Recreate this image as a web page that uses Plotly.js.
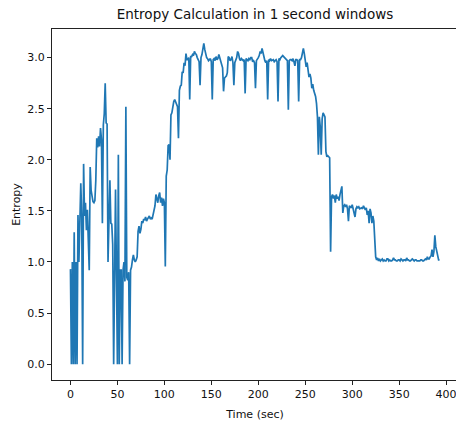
<!DOCTYPE html>
<html><head><meta charset="utf-8">
<script src="https://cdn.plot.ly/plotly-3.0.1.min.js"></script>
<style>html,body{margin:0;padding:0;overflow:hidden;background:#fff}</style>
</head><body><div id="chart" style="width:460px;height:428px"></div>
<script>
const timeSec = [
0,1,2,3,4,5,6,7,8,9,
11,12,13,14,15,16,17,18,20,21,
22,23,24,25,26,27,28,29,30,31,
32,33,34,35,36,37,38,39,40,42,
43,44,45,46,48,50,51,52,53,54,
55,56,57,58,59,60,61,62,63,64,
65,66,67,68,69,70,71,72,73,74,
75,76,77,78,79,80,81,82,83,84,
85,86,87,88,89,90,91,92,93,94,
95,96,97,98,99,100,101,102,103,104,
105,106,107,108,109,110,111,112,113,114,
115,116,117,118,119,120,121,122,123,124,
125,126,127,128,129,130,131,132,133,134,
135,136,137,138,139,140,141,142,143,144,
145,146,147,148,149,150,151,152,153,154,
155,156,157,158,159,160,161,162,163,164,
165,166,167,168,169,170,171,172,173,174,
175,176,177,178,179,180,181,182,183,184,
185,186,187,188,189,190,191,192,193,194,
195,196,197,198,199,200,201,202,203,204,
205,206,207,208,209,210,211,212,213,214,
215,216,217,218,219,220,221,222,223,224,
225,226,227,228,229,230,231,232,233,234,
235,236,237,238,239,240,241,242,243,244,
245,246,247,248,249,250,251,252,253,254,
255,256,257,258,259,260,261,262,263,264,
265,266,267,268,269,270,271,272,273,274,
275,276,277,278,279,280,281,282,283,284,
285,286,287,288,289,290,291,292,293,294,
295,296,297,298,299,300,301,302,303,304,
305,306,307,308,309,310,311,312,313,314,
315,316,317,318,319,320,321,322,323,324,
325,326,327,328,329,330,331,332,333,334,
335,336,337,338,339,340,341,342,343,344,
345,346,347,348,349,350,351,352,353,354,
355,356,357,358,359,360,361,362,363,364,
365,366,367,368,369,370,371,372,373,374,
375,376,377,378,379,380,381,382,383,384,
385,386,387,388,389,390,391,392,393
];
const entropy = [
0.93,0,1.0,0,1.29,0,1.0,0,1.46,1.0,
1.77,1.45,0,1.96,1.45,1.58,1.31,1.51,0.92,1.93,
1.70,1.62,1.59,1.58,1.60,1.80,2.21,2.12,2.23,2.13,
2.31,2.20,1.38,2.34,2.45,2.75,2.36,2.35,1.0,1.80,
1.38,1.37,1.17,0,1.71,0,2.05,0,0.92,0.92,
0,0.92,1.0,0.81,2.52,0.85,0.82,0.9,0,0.92,
0.95,1.02,1.07,1.02,1.0,1.02,1.05,1.30,1.35,1.28,
1.32,1.40,1.38,1.42,1.41,1.44,1.40,1.42,1.44,1.45,
1.42,1.43,1.42,1.46,1.50,1.55,1.66,1.60,1.58,1.65,
1.68,1.58,1.63,1.55,1.62,1.58,0.955,1.84,1.90,2.14,
2.15,2.0,2.44,2.46,2.54,2.57,2.59,2.57,2.55,2.52,
2.21,2.68,2.72,2.73,2.86,2.85,2.95,2.92,3.04,2.98,
2.98,3.0,2.59,3.01,3.01,3.03,3.02,3.06,3.04,3.03,
3.0,2.98,2.96,2.73,3.0,3.03,3.12,3.14,3.08,3.03,
3.0,2.99,2.97,2.98,2.99,2.96,2.59,2.98,2.99,2.97,
3.01,2.98,2.99,3.03,3.0,2.97,2.95,2.90,2.67,2.80,
2.81,2.82,2.85,3.01,3.0,2.97,2.98,3.01,2.95,2.73,
2.95,2.97,3.0,3.06,3.04,2.99,2.97,2.99,2.98,2.97,
2.98,2.65,2.99,2.98,2.97,2.99,2.98,3.0,3.0,2.96,
2.97,2.95,2.70,2.97,2.98,3.0,3.02,3.06,3.04,3.09,
3.05,3.0,2.97,2.95,2.97,2.59,2.98,2.97,2.99,2.97,
2.98,2.98,2.96,2.97,2.98,2.96,2.57,2.99,2.98,3.0,
3.01,3.02,3.01,3.0,2.98,2.98,2.97,2.49,2.97,2.98,
2.98,2.97,2.99,2.96,2.92,2.98,2.98,2.97,2.57,2.98,
2.98,3.0,3.06,3.09,3.04,2.94,2.91,2.95,2.85,2.81,
2.84,2.80,2.70,2.74,2.68,2.65,2.62,2.55,2.42,2.05,
2.42,2.32,2.05,2.40,2.46,2.44,2.42,2.08,2.03,2.04,
2.03,2.02,1.10,1.64,1.66,1.62,1.65,1.58,1.66,1.62,
1.64,1.60,1.66,1.70,1.74,1.48,1.55,1.56,1.54,1.56,
1.52,1.40,1.55,1.54,1.53,1.56,1.52,1.50,1.44,1.52,
1.54,1.53,1.54,1.52,1.53,1.53,1.52,1.55,1.53,1.51,
1.53,1.46,1.50,1.38,1.52,1.48,1.38,1.45,1.40,1.18,
1.05,1.02,1.04,1.01,1.03,1.01,1.02,1.03,1.01,1.02,
1.01,1.01,1.03,1.03,1.01,1.02,1.01,1.01,1.02,1.04,
1.02,1.02,1.01,1.01,1.02,1.02,1.01,1.03,1.02,1.01,
1.02,1.02,1.01,1.04,1.02,1.02,1.01,1.01,1.02,1.03,
1.02,1.01,1.02,1.02,1.01,1.01,1.01,1.01,1.02,1.02,
1.01,1.01,1.02,1.03,1.02,1.05,1.03,1.03,1.05,1.06,
1.12,1.05,1.10,1.26,1.15,1.10,1.06,1.02,1.02
];
const xTickStep = 50;
const yTickStep = 0.5;

const axisStyle = {
  ticks: 'outside', ticklen: 4, tickwidth: 1, tickcolor: '#222',
  showline: true, linecolor: '#222', linewidth: 1, mirror: true,
  showgrid: false, zeroline: false,
  tickfont: {family: 'DejaVu Sans', size: 11, color: '#111'}
};

Plotly.newPlot('chart', [{
  x: timeSec, y: entropy, type: 'scatter', mode: 'lines',
  line: {color: '#1f77b4', width: 1.7}
}], {
  width: 460, height: 428,
  margin: {l: 52, r: 2, t: 29, b: 48},
  paper_bgcolor: '#fff', plot_bgcolor: '#fff',
  font: {family: 'DejaVu Sans', size: 11, color: '#111'},
  showlegend: false,
  title: {text: 'Entropy Calculation in 1 second windows', font: {family: 'DejaVu Sans', size: 13.5, color: '#111'},
          xref: 'paper', x: 0.5, xanchor: 'center', yref: 'container', y: 1 - 14/428, yanchor: 'middle'},
  xaxis: Object.assign({}, axisStyle, {
    range: [-19.65, 412.65], tickmode: 'linear', tick0: 0, dtick: xTickStep,
    title: {text: 'Time (sec)', font: {family: 'DejaVu Sans', size: 11, color: '#111'}, standoff: 10}
  }),
  yaxis: Object.assign({}, axisStyle, {
    range: [-0.155, 3.28], tickmode: 'linear', tick0: 0, dtick: yTickStep, tickformat: '.1f',
    title: {text: 'Entropy', font: {family: 'DejaVu Sans', size: 11, color: '#111'}, standoff: 4}
  })
}, {displayModeBar: false, staticPlot: true});
</script>
</body></html>
